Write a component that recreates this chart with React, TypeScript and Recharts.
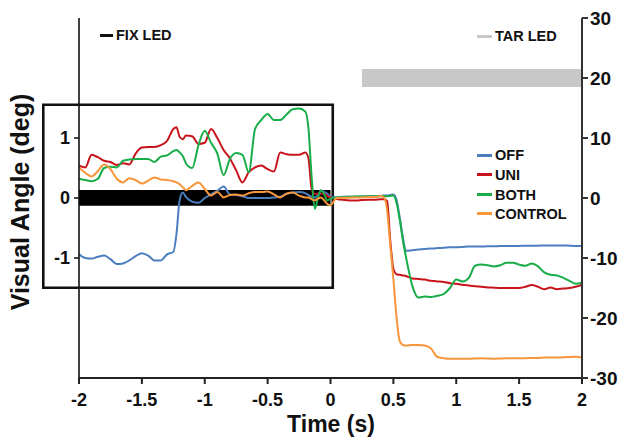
import React from 'react';
import {
  ComposedChart,
  Line,
  XAxis,
  YAxis,
  ReferenceArea,
} from 'recharts';

// ---- time grids ----
const insetTimes = [
  -2, -1.95, -1.9, -1.85, -1.8, -1.75, -1.7, -1.65, -1.6, -1.55, -1.5, -1.45, -1.4, -1.35, -1.3, -1.25,
  -1.225, -1.2, -1.175,
  -1.15, -1.1, -1.05, -1, -0.95, -0.9, -0.85, -0.8, -0.75, -0.7, -0.65, -0.6, -0.55, -0.5, -0.45, -0.4, -0.35, -0.3, -0.25, -0.2,
  -0.175, -0.15, -0.125, -0.1, -0.075, -0.05, -0.025, 0,
];
const mainTimes = [
  0.05, 0.1, 0.15, 0.2, 0.25, 0.3, 0.35, 0.4,
  0.425, 0.45, 0.475, 0.5, 0.525, 0.55, 0.575, 0.6,
  0.65, 0.7, 0.75, 0.8, 0.825, 0.85, 0.9, 0.95, 1.0,
  1.05, 1.1, 1.15, 1.2, 1.25, 1.3, 1.35, 1.4, 1.45, 1.5, 1.55, 1.6, 1.65, 1.7, 1.75, 1.8, 1.85, 1.9, 1.95, 2.0,
];

// ---- inset (t <= 0), degrees, shown magnified ----
const offInset = [
  -0.94, -1.0, -1.01, -0.98, -0.96, -1.02, -1.1, -1.09, -1.04, -0.97, -0.92, -0.96, -1.04, -1.04, -0.94, -0.9,
  -0.6, -0.04, 0.09,
  0.02, -0.06, -0.08, 0.0, 0.06, 0.12, 0.19, 0.06, 0.05, 0.03, 0.0, 0.0, 0.0, 0.0, 0.01, 0.02, 0.07, 0.09, 0.1, 0.08,
  0.05, 0.02, 0.01, 0.06, 0.12, 0.1, 0.07, 0.02,
];
const uniInset = [
  0.54, 0.51, 0.72, 0.68, 0.62, 0.6, 0.55, 0.58, 0.56, 0.74, 0.84, 0.85, 0.85, 0.88, 0.95, 1.15,
  1.18, 1.02, 0.98,
  1.04, 1.03, 0.9, 0.92, 1.15, 1.0, 0.8, 0.66, 0.46, 0.26, 0.43, 0.51, 0.54, 0.48, 0.44, 0.76, 0.73, 0.72, 0.72, 0.76,
  0.66, 0.15, 0.07, 0.07, 0.07, 0.07, 0.03, 0.01,
];
const bothInset = [
  0.32, 0.3, 0.28, 0.32, 0.5, 0.52, 0.51, 0.62, 0.64, 0.65, 0.65, 0.65, 0.6, 0.69, 0.71, 0.78,
  0.8, 0.76, 0.7,
  0.58, 0.5, 0.88, 1.12, 0.92, 0.74, 0.38, 0.65, 0.75, 0.72, 0.43, 1.15, 1.3, 1.4, 1.3, 1.3, 1.39, 1.48, 1.49, 1.44,
  1.15, 0.35, -0.18, 0.0, 0.13, 0.06, -0.04, -0.01,
];
const controlInset = [
  0.51, 0.42, 0.36, 0.45, 0.56, 0.48, 0.32, 0.26, 0.33, 0.3, 0.24, 0.29, 0.34, 0.31, 0.3, 0.28,
  0.26, 0.23, 0.18,
  0.13, 0.2, 0.26, 0.15, 0.04, 0.1, 0.01, 0.05, 0.06, 0.04, 0.08, 0.1, 0.1, 0.11, 0.06, 0.01, 0.07, 0.09, 0.04, 0.01,
  0.01, -0.02, -0.04, -0.01, 0.01, -0.04, -0.1, -0.12,
];

// ---- main (t > 0), degrees ----
const offMain = [
  0.1, 0.2, 0.2, 0.2, 0.25, 0.3, 0.3, 0.35,
  0.4, 0.4, 0.5, 0.6, -0.3, -3.2, -6.5, -8.8,
  -8.7, -8.6, -8.5, -8.4, -8.4, -8.35, -8.3, -8.2, -8.2,
  -8.15, -8.1, -8.1, -8.1, -8.05, -8.05, -8.0, -8.0, -8.0, -8.0, -7.95, -7.95, -7.95, -7.9, -7.9, -7.9, -7.9, -7.95, -8.0, -8.0,
];
const uniMain = [
  -0.15, -0.3, -0.4, -0.4, -0.35, -0.3, -0.3, -0.2,
  -0.2, -0.5, -7.0, -11.8, -12.7, -12.8, -12.9, -13.0,
  -13.4, -13.5, -13.6, -13.8, -13.85, -13.9, -14.0, -14.2, -14.3,
  -14.45, -14.6, -14.7, -14.8, -14.9, -14.95, -15.0, -15.0, -15.0, -15.0, -14.8, -14.5, -14.8, -15.2, -14.9, -15.2, -15.1, -15.0, -14.8, -14.5,
];
const bothMain = [
  0.1, 0.15, 0.2, 0.25, 0.25, 0.3, 0.3, 0.3,
  0.3, 0.3, 0.35, 0.4, -0.8, -3.5, -7.0, -9.8,
  -14.6, -16.6, -16.4, -16.5, -16.4, -16.3, -16.0, -15.0, -13.6,
  -13.9, -13.3, -11.3, -11.1, -11.2, -11.4, -11.2, -10.8, -10.8, -11.1, -11.3, -10.9, -11.4, -12.4, -12.8, -12.9, -13.3, -13.8, -14.3, -14.1,
];
const controlMain = [
  0.0, 0.05, 0.05, 0.1, 0.1, 0.15, 0.15, 0.35,
  0.1, -2.0, -7.8, -13.5, -19.8, -23.8, -24.5, -24.6,
  -24.5, -24.5, -24.6, -25.1, -25.9, -26.5, -26.7, -26.8, -26.8,
  -26.8, -26.8, -26.75, -26.7, -26.75, -26.8, -26.75, -26.7, -26.7, -26.7, -26.7, -26.65, -26.65, -26.6, -26.6, -26.6, -26.55, -26.5, -26.45, -26.6,
];

// ---- axes & annotations ----
const xTicks = [-2, -1.5, -1, -0.5, 0, 0.5, 1, 1.5, 2];
const rightTicks = [-30, -20, -10, 0, 10, 20, 30];
const insetTicks = [-10, 0, 10];
const INSET_GAIN = 10;
const fixBar = { x1: -2, x2: 0, y1: -1.3, y2: 1.35 };
const tarBar = { x1: 0.25, x2: 2, y1: 18.5, y2: 21.5 };
const insetBox = { x1: -2.284, x2: 0.018, y1: -14.97, y2: 15.53 };

const series = [
  { key: 'off', name: 'OFF', color: '#4a7ebf' },
  { key: 'uni', name: 'UNI', color: '#c8141c' },
  { key: 'both', name: 'BOTH', color: '#18ad48' },
  { key: 'control', name: 'CONTROL', color: '#f7963b' },
];

const rows = [
  ...insetTimes.map((t, i) => ({
    t,
    off: offInset[i] * INSET_GAIN,
    uni: uniInset[i] * INSET_GAIN,
    both: bothInset[i] * INSET_GAIN,
    control: controlInset[i] * INSET_GAIN,
  })),
  ...mainTimes.map((t, i) => ({
    t,
    off: offMain[i],
    uni: uniMain[i],
    both: bothMain[i],
    control: controlMain[i],
  })),
];

const FONT = '"Liberation Sans", Arial, Helvetica, sans-serif';

const LegendItem = ({ left, top, color, label, lineW = 15 }: any) => (
  <div
    style={{
      position: 'absolute',
      left,
      top: top - 9,
      height: 18,
      display: 'flex',
      alignItems: 'center',
      fontFamily: FONT,
      fontWeight: 700,
      fontSize: 14.5,
      color: '#111',
      whiteSpace: 'nowrap',
    }}
  >
    <div style={{ width: lineW, height: 3, background: color, marginRight: 3 }} />
    <span>{label}</span>
  </div>
);

export default function App() {
  return (
    <div style={{ position: 'absolute', left: 0, top: 0, width: 626, height: 444, background: '#fff' }}>
      <ComposedChart
        width={626}
        height={444}
        data={rows}
        margin={{ top: 18, right: 0, bottom: 0, left: 0 }}
      >
        <XAxis
          dataKey="t"
          type="number"
          domain={[-2, 2]}
          ticks={xTicks}
          interval={0}
          allowDataOverflow
          height={66}
          tickSize={6}
          tickMargin={9}
          axisLine={{ stroke: '#222', strokeWidth: 2 }}
          tickLine={{ stroke: '#222', strokeWidth: 2 }}
          tick={{ fill: '#111', fontSize: 18, fontWeight: 700, fontFamily: FONT }}
          label={() => (
            <text x={331} y={432} textAnchor="middle" fontSize={23} fontWeight={700} fontFamily={FONT} fill="#111">
              Time (s)
            </text>
          )}
        />
        <YAxis
          yAxisId="L"
          orientation="left"
          width={79}
          domain={[-30, 30]}
          allowDataOverflow
          ticks={insetTicks}
          interval={0}
          tickFormatter={(v: number) => String(v / INSET_GAIN)}
          tickSize={5}
          tickMargin={4}
          axisLine={{ stroke: '#111', strokeWidth: 1.6 }}
          tickLine={{ stroke: '#111', strokeWidth: 1.5 }}
          tick={{ fill: '#111', fontSize: 18, fontWeight: 700, fontFamily: FONT }}
          label={() => (
            <text
              x={20}
              y={202}
              transform="rotate(-90, 20, 202)"
              textAnchor="middle"
              dominantBaseline="central"
              fontSize={25}
              fontWeight={700}
              fontFamily={FONT}
              fill="#111"
            >
              Visual Angle (deg)
            </text>
          )}
        />
        <YAxis
          yAxisId="R"
          orientation="right"
          width={44}
          domain={[-30, 30]}
          allowDataOverflow
          ticks={rightTicks}
          interval={0}
          tickSize={6}
          tickMargin={2}
          axisLine={{ stroke: '#333', strokeWidth: 2 }}
          tickLine={{ stroke: '#333', strokeWidth: 2 }}
          tick={{ fill: '#111', fontSize: 19, fontWeight: 700, fontFamily: FONT }}
        />
        <ReferenceArea
          yAxisId="R"
          x1={tarBar.x1}
          x2={tarBar.x2}
          y1={tarBar.y1}
          y2={tarBar.y2}
          fill="#c8c8c8"
          fillOpacity={1}
          stroke="none"
          ifOverflow="visible"
        />
        <ReferenceArea
          yAxisId="R"
          x1={fixBar.x1}
          x2={fixBar.x2}
          y1={fixBar.y1}
          y2={fixBar.y2}
          fill="#000"
          fillOpacity={1}
          stroke="none"
          ifOverflow="visible"
        />
        <ReferenceArea
          yAxisId="R"
          x1={insetBox.x1}
          x2={insetBox.x2}
          y1={insetBox.y1}
          y2={insetBox.y2}
          fill="none"
          fillOpacity={0}
          stroke="#111"
          strokeWidth={2.6}
          ifOverflow="visible"
        />
        {series.map((s) => (
          <Line
            key={s.key}
            yAxisId="R"
            type="monotone"
            dataKey={s.key}
            name={s.name}
            stroke={s.color}
            strokeWidth={2}
            dot={false}
            activeDot={false}
            isAnimationActive={false}
          />
        ))}
      </ComposedChart>
      <LegendItem left={100} top={35} color="#111" label="FIX LED" lineW={13} />
      <LegendItem left={477} top={36} color="#c8c8c8" label="TAR LED" />
      {series.map((s, i) => (
        <LegendItem key={s.key} left={477} top={[155, 174.5, 194.5, 213.5][i]} color={s.color} label={s.name} />
      ))}
    </div>
  );
}
